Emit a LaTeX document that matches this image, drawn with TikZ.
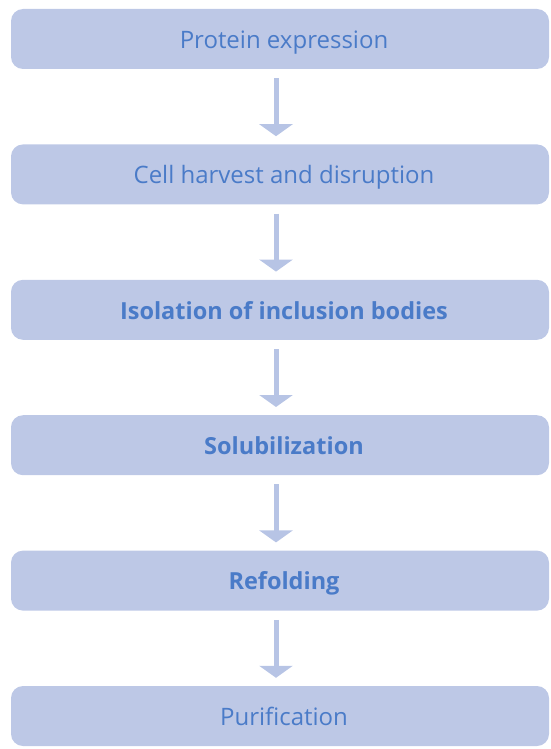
\documentclass[tikz,border=0pt]{standalone}
\usepackage{fontspec}
\setmainfont{Open Sans}
\usetikzlibrary{arrows.meta}
\definecolor{boxfill}{HTML}{BDC8E6}
\definecolor{arrowfill}{HTML}{B7C4E5}
\definecolor{txt}{HTML}{4A7BC8}
\tikzset{
  stepbox/.style={fill=boxfill, draw=none, rounded corners=12pt, minimum width=538pt, minimum height=60pt, inner sep=0pt, text height=18.6pt, text depth=0pt, text=txt, font=\fontsize{24}{28}\selectfont},
  boldbox/.style={stepbox, font=\fontsize{23.5}{28}\selectfont\bfseries},
  flowarrow/.style={draw=arrowfill, line width=5pt, -{Triangle[width=33pt,length=12pt]}, shorten <=9pt, shorten >=8pt, arrowfill}
}
\newcommand{\tx}[1]{\hspace*{8pt}#1}
\begin{document}
\begin{tikzpicture}[x=1pt,y=-1pt]
\useasboundingbox (0,0) rectangle (550,749);
\node[stepbox] (b1) at (280,39) {\tx{Protein expression}};
\node[stepbox] (b2) at (280,174.4) {\tx{Cell harvest and disruption}};
\node[boldbox] (b3) at (280,309.8) {\tx{Isolation of inclusion bodies}};
\node[boldbox] (b4) at (280,445.2) {\tx{Solubilization}};
\node[boldbox] (b5) at (280,580.6) {\tx{Refolding}};
\node[stepbox] (b6) at (280,716) {\tx{Purification}};
\coordinate (ax) at (276,0);
\draw[flowarrow] (b1.south -| ax) -- (b2.north -| ax);
\draw[flowarrow] (b2.south -| ax) -- (b3.north -| ax);
\draw[flowarrow] (b3.south -| ax) -- (b4.north -| ax);
\draw[flowarrow] (b4.south -| ax) -- (b5.north -| ax);
\draw[flowarrow] (b5.south -| ax) -- (b6.north -| ax);
\end{tikzpicture}
\end{document}
